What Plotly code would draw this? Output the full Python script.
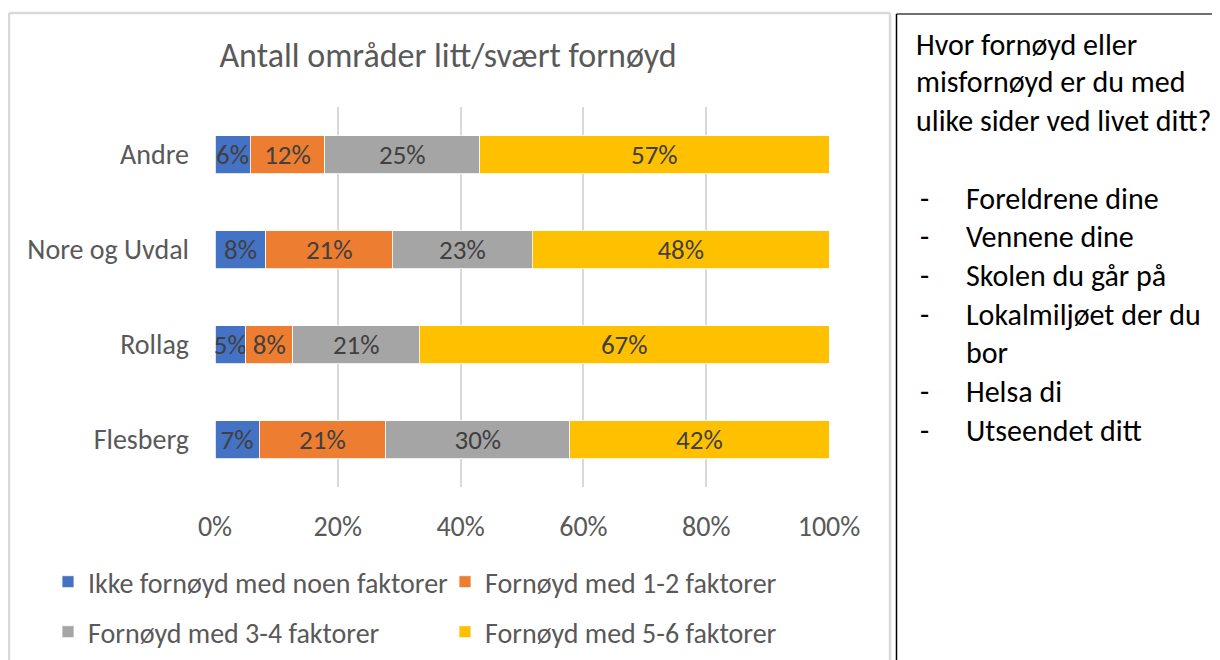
import plotly.graph_objects as go

# ---- data ----
categories = ["Andre", "Nore og Uvdal", "Rollag", "Flesberg"]
series_names = [
    "Ikke fornøyd med noen faktorer",
    "Fornøyd med 1-2 faktorer",
    "Fornøyd med 3-4 faktorer",
    "Fornøyd med 5-6 faktorer",
]
ikke = [0.057, 0.083, 0.050, 0.072]
f12 = [0.122, 0.206, 0.077, 0.206]
f34 = [0.252, 0.228, 0.206, 0.300]
f56 = [0.569, 0.483, 0.667, 0.422]
series_values = [ikke, f12, f34, f56]
colors = ["#4472C4", "#ED7D31", "#A5A5A5", "#FFC000"]
x_ticks = [0, 0.2, 0.4, 0.6, 0.8, 1.0]
x_ticklabels = ["0%", "20%", "40%", "60%", "80%", "100%"]

title_text = "Antall områder litt/svært fornøyd"
box_header = ["Hvor fornøyd eller", "misfornøyd er du med", "ulike sider ved livet ditt?"]
box_items = [("-", "Foreldrene dine"), ("-", "Vennene dine"), ("-", "Skolen du går på"),
             ("-", "Lokalmiljøet der du"), ("", "bor"), ("-", "Helsa di"), ("-", "Utseendet ditt")]

FONT = "Carlito, Calibri, Lato, sans-serif"
OFF = 8  # page body margin
W, H = 1220 - OFF, 660 - OFF
L, R, T, B = 215, 829, 107, 487  # plot area in page pixels
PAGE_BOTTOM = OFF + H
PAGE_RIGHT = OFF + W


def X(px):
    return (px - L) / (R - L)


def Y(py):
    return (B - py) / (B - T)


fig = go.Figure()
for i, (name, vals, col) in enumerate(zip(series_names, series_values, colors)):
    fig.add_trace(go.Bar(
        y=categories, x=vals, name=name, orientation="h",
        marker=dict(color=col, line=dict(color="white", width=0.8)),
        texttemplate="%{x:.0%}", textposition="inside", insidetextanchor="middle",
        constraintext="none", textangle=0,
        textfont=dict(family=FONT, size=27, color="#404040"),
        legend="legend" if i < 2 else "legend2",
        hoverinfo="skip",
    ))

leg_font = dict(size=28, color="#595959", family=FONT)
fig.update_layout(
    width=W, height=H,
    margin=dict(l=L - OFF, r=PAGE_RIGHT - R, t=T - OFF, b=PAGE_BOTTOM - B, autoexpand=False),
    barmode="stack", bargap=0.6,
    plot_bgcolor="white", paper_bgcolor="white",
    font=dict(family=FONT, color="#595959"),
    title=dict(text=title_text, x=(448 - OFF) / W, xanchor="center", xref="container",
               y=1 - (55 - OFF) / H, yanchor="middle", font=dict(size=34, color="#595959", family=FONT)),
    xaxis=dict(range=[0, 1], tickvals=x_ticks, ticktext=x_ticklabels, showgrid=True,
               gridcolor="#D9D9D9", gridwidth=1.5, zeroline=False, showline=False,
               tickfont=dict(size=28, color="#595959", family=FONT), ticks="",
               ticklabelstandoff=20, fixedrange=True, automargin=False),
    yaxis=dict(categoryorder="array", categoryarray=categories, autorange="reversed",
               showgrid=False, zeroline=False, showline=False, ticks="",
               tickfont=dict(size=28, color="#595959", family=FONT),
               ticklabelstandoff=25, fixedrange=True, automargin=False),
    legend=dict(orientation="h", x=X(48), xanchor="left", y=Y(582), yanchor="middle",
                entrywidth=352, traceorder="normal", font=leg_font, bgcolor="rgba(0,0,0,0)"),
    legend2=dict(orientation="h", x=X(48), xanchor="left", y=Y(632), yanchor="middle",
                 entrywidth=352, traceorder="normal", font=leg_font, bgcolor="rgba(0,0,0,0)"),
    showlegend=True,
)

# chart frame (open at the bottom) and side box (open at bottom/right)
frame = dict(color="#D9D9D9", width=2.5)
for x0, y0, x1, y1 in [(9, 13, 890, 13), (9, 13, 9, PAGE_BOTTOM), (890, 13, 890, PAGE_BOTTOM)]:
    fig.add_shape(type="line", xref="paper", yref="paper", x0=X(x0), y0=Y(y0), x1=X(x1), y1=Y(y1),
                  line=frame, layer="below")
fig.add_shape(type="line", xref="paper", yref="paper", x0=X(896.5), y0=Y(14), x1=X(PAGE_RIGHT), y1=Y(14),
              line=dict(color="#404040", width=1.5))
fig.add_shape(type="line", xref="paper", yref="paper", x0=X(896.5), y0=Y(14), x1=X(896.5), y1=Y(PAGE_BOTTOM),
              line=dict(color="#000000", width=1.5))

# side box text
box_font = dict(size=30, color="#000000", family=FONT)
line_y = [45, 82, 120]
for txt, yy in zip(box_header, line_y):
    fig.add_annotation(xref="paper", yref="paper", x=X(914), y=Y(yy), xanchor="left", yanchor="middle",
                       text=txt, showarrow=False, font=box_font)
item_y = [198, 237, 275, 314, 352, 391, 430]
for (dash, txt), yy in zip(box_items, item_y):
    if dash:
        fig.add_annotation(xref="paper", yref="paper", x=X(918), y=Y(yy), xanchor="left", yanchor="middle",
                           text=dash, showarrow=False, font=box_font)
    fig.add_annotation(xref="paper", yref="paper", x=X(964), y=Y(yy), xanchor="left", yanchor="middle",
                       text=txt, showarrow=False, font=box_font)

fig.write_html("out.html")
